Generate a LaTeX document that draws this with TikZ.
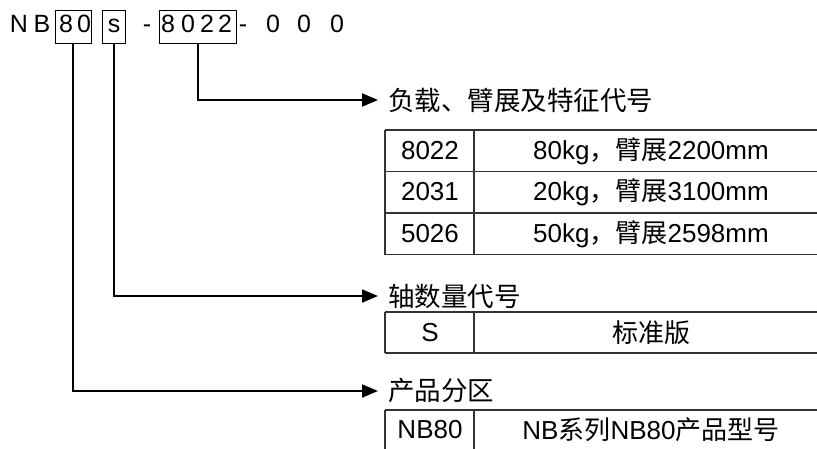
\documentclass[tikz,border=0pt]{standalone}
\usepackage{fontspec}
\setmainfont{Liberation Sans}
\newfontfamily\cjk{Noto Sans CJK SC}
\usetikzlibrary{arrows.meta}
\begin{document}
\begin{tikzpicture}[x=1pt,y=-1pt,
  ch/.style={inner sep=0pt, anchor=base, font=\fontsize{25}{25}\selectfont},
  codebox/.style={draw, line width=1pt, inner sep=0pt, minimum height=33pt},
  conn/.style={line width=2pt, -{Triangle[length=16pt,width=13pt]}},
  gridline/.style={line width=1.5pt, draw=black!80},
  head/.style={anchor=west, inner sep=0pt, font=\cjk\fontsize{26.5}{26.5}\selectfont},
  cell/.style={inner sep=0pt, font=\fontsize{26}{26}\selectfont}]
\useasboundingbox (0,0) rectangle (817,448);
% code line
\node[ch] (c1) at (19,32) {N};
\node[ch] (c2) at (42,32) {B};
\node[ch] (c3) at (66,32) {8};
\node[ch] (c4) at (84,32) {0};
\node[ch] (c5) at (114,32) {s};
\node[ch] (c6) at (147,32) {-};
\node[ch] (c7) at (168,32) {8};
\node[ch] (c8) at (188,32) {0};
\node[ch] (c9) at (207,32) {2};
\node[ch] (c10) at (225,32) {2};
\node[ch] (c11) at (243,32) {-};
\node[ch] (c12) at (273,32) {0};
\node[ch] (c13) at (304,32) {0};
\node[ch] (c14) at (337,32) {0};
\node[codebox, minimum width=36pt] (b80) at (73,26.5) {};
\node[codebox, minimum width=23pt] (bs) at (113.5,26.5) {};
\node[codebox, minimum width=77pt] (b8022) at (197.5,26.5) {};
% headings
\node[head] (h1) at (388,100) {负载、臂展及特征代号};
\node[head] (h2) at (388,296) {轴数量代号};
\node[head] (h3) at (388,391) {产品分区};
% connectors
\draw[conn] (b8022.south) |- ([xshift=-10pt]h1.west);
\draw[conn] (bs.south) |- ([xshift=-10pt]h2.west);
\draw[conn] (b80.south) |- ([xshift=-10pt]h3.west);
% table 1
\draw[gridline] (385,130) -- (830,130) (385,171.5) -- (830,171.5)
  (385,213) -- (830,213) (385,254.5) -- (830,254.5)
  (385,130) -- (385,254.5) (474,130) -- (474,254.5);
\node[cell] (t11) at (430,151) {8022};
\node[cell] (t12) at (651,151) {80kg{\cjk，臂展}2200mm};
\node[cell] (t21) at (430,192) {2031};
\node[cell] (t22) at (651,192) {20kg{\cjk，臂展}3100mm};
\node[cell] (t31) at (430,234) {5026};
\node[cell] (t32) at (651,234) {50kg{\cjk，臂展}2598mm};
% table 2
\draw[gridline] (385,312) -- (830,312) (385,353) -- (830,353)
  (385,312) -- (385,353) (474,312) -- (474,353);
\node[cell] (u11) at (430,332.5) {S};
\node[cell, font=\cjk\fontsize{26}{26}\selectfont] (u12) at (651,332.5) {标准版};
% table 3
\draw[gridline] (385,410) -- (830,410)
  (385,410) -- (385,460) (474,410) -- (474,460);
\node[cell] (v11) at (430,430) {NB80};
\node[cell] (v12) at (651,430) {NB{\cjk 系列}NB80{\cjk 产品型号}};
\end{tikzpicture}
\end{document}
